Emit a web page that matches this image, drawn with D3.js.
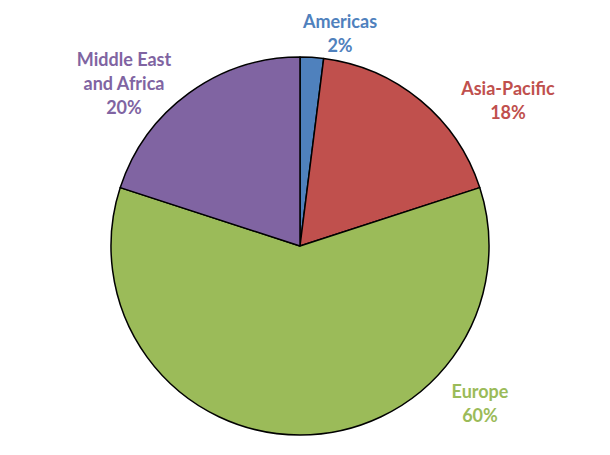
<!DOCTYPE html>
<html><head><meta charset="utf-8">
<script src="https://cdn.jsdelivr.net/npm/d3@7"></script>
<style>body{margin:0;background:#fff}</style>
</head><body>
<svg id="c" width="610" height="455"></svg>
<script>
const categories = ["Americas", "Asia-Pacific", "Europe", "Middle East and Africa"];
const values = [2, 18, 60, 20];
const colors = ["#4F81BD", "#C0504D", "#9BBB59", "#8064A2"];
const labelLines = [["Americas"], ["Asia-Pacific"], ["Europe"], ["Middle East", "and Africa"]];
// label anchor positions (centre of label block) in chart space
const labelPos = [[340, 34], [508, 101], [480, 404], [124, 84]];

const svg = d3.select("#c");
const cx = 300, cy = 246, r = 189;
const data = categories.map((c, i) => ({cat: c, v: values[i], i}));
const pie = d3.pie().value(d => d.v).sort(null);
const arc = d3.arc().innerRadius(0).outerRadius(r);
const g = svg.append("g").attr("transform", `translate(${cx},${cy})`);
g.selectAll("path").data(pie(data)).join("path")
  .attr("d", arc)
  .attr("fill", d => colors[d.data.i])
  .attr("stroke", "#000").attr("stroke-width", 1.5).attr("stroke-linejoin", "round");

const lh = 24;
data.forEach((d, i) => {
  const lines = labelLines[i].concat([d.v + "%"]);
  const [x, y] = labelPos[i];
  const t = svg.append("text")
    .attr("text-anchor", "middle")
    .attr("font-family", "Lato, 'Open Sans', sans-serif")
    .attr("font-weight", "bold")
    .attr("font-size", 18)
    .attr("fill", colors[i]);
  const y0 = y - (lines.length - 1) * lh / 2 + 6;
  lines.forEach((l, k) => t.append("tspan").attr("x", x).attr("y", y0 + k * lh).text(l));
});
</script>
</body></html>
